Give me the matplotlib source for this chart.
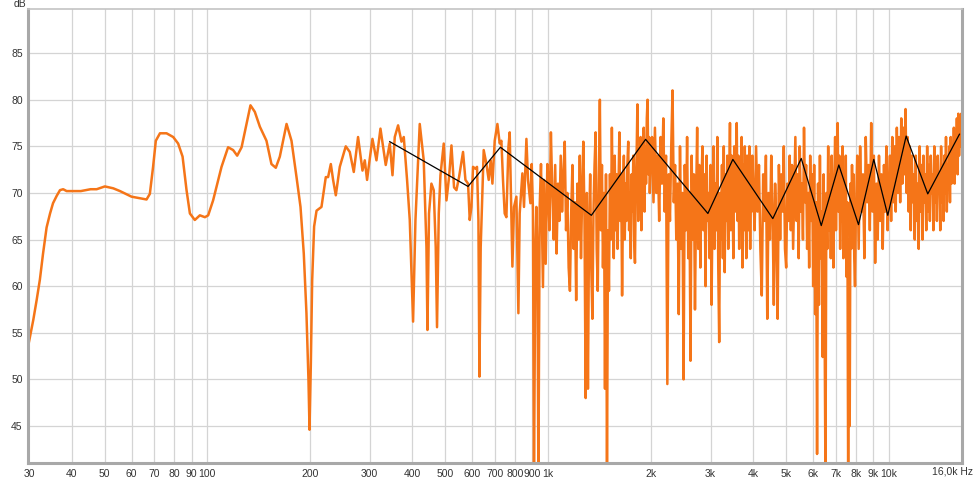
import matplotlib
matplotlib.use("Agg")
import matplotlib.pyplot as plt
import numpy as np

# ---------------- data ----------------
freq_low = [30.0, 30.9, 31.6, 32.3, 33.0, 33.8, 34.6, 35.3, 36.2, 37.0, 37.8, 38.7, 40.0, 42.6,
            45.5, 47.4, 50.1, 53.0, 55.5, 60.0, 66.4, 67.9, 69.4, 70.7, 72.7, 76.0, 79.5, 82.2,
            84.7, 87.0, 89.0, 92.0, 95.2, 98.5, 100.7, 104.1, 110.2, 115.2, 119.2, 122.5, 126.2,
            130.5, 134.0, 138.0, 142.8, 149.3, 154.4, 159.0,
            163.4, 171.0, 176.8, 182.9, 187.9, 192.1, 195.6, 198.3, 199.7, 201.5, 203.3, 206.0,
            209.4, 216.5, 222.9, 226.4, 230.6, 234.2, 238.5, 245.0, 255.1, 262.1, 269.3, 277.2,
            285.6, 290.1, 294.6, 298.6, 305.5, 313.9, 322.5, 334.2, 343.4, 349.8, 355.2, 363.3,
            371.7, 377.5, 386.0, 393.1, 402.0, 408.5, 420.5,
            432.0, 440.0, 443.0, 447.7, 455.0, 462.2, 468.5, 472.6, 478.2, 483.7, 494.5, 503.7,
            512.6, 521.0, 530.2, 538.9, 548.4, 563.4, 572.6, 582.8, 589.5, 596.3, 602.8, 612.6,
            619.2, 625.1, 629.3, 634.8, 647.8, 659.8, 670.1, 679.2, 687.1, 697.8, 710.6, 721.8,
            730.0, 738.0, 746.5, 755.1, 765.5, 772.2, 781.1, 786.4, 795.0, 807.9, 818.9, 826.1,
            841.3, 850.5, 864.5, 873.8, 888.1, 896.0, 903.6, 909.8, 918.6, 924.8, 931.0, 937.4,
            945.6, 954.0, 966.8, 973.4, 984.7, 995.9]
db_low = [54.0, 56.4, 58.5, 60.7, 63.5, 66.3, 67.8, 68.9, 69.7, 70.3, 70.4, 70.2, 70.2, 70.2,
          70.4, 70.4, 70.7, 70.5, 70.2, 69.6, 69.3, 69.9, 72.8, 75.6, 76.4, 76.4, 76.0, 75.3,
          73.9, 70.3, 67.8, 67.1, 67.6, 67.4, 67.6, 69.2, 72.8, 74.9, 74.6, 74.0, 74.9,
          77.4, 79.4, 78.7, 77.1, 75.6, 73.1, 72.7,
          73.9, 77.4, 75.6, 71.7, 68.5, 63.5, 57.1, 49.9, 44.6, 51.7, 60.6, 66.4,
          68.1, 68.5, 71.7, 71.7, 73.1, 71.4, 69.75, 72.8, 75.0, 74.4, 72.25, 76.0,
          72.4, 73.5, 71.4, 73.1, 75.8, 73.5, 76.9, 73.0, 75.3, 71.9, 76.0, 77.25,
          75.5, 76.0, 71.4, 67.1, 56.2, 67.1, 77.4,
          73.5, 64.2, 55.3, 67.8, 71.0, 70.3, 64.2, 55.6, 67.8, 71.9, 75.3, 69.2,
          71.7, 75.1, 70.6, 70.3, 71.7, 74.4, 71.4, 71.0, 67.1, 68.5, 72.8, 72.6,
          72.8, 67.1, 50.3, 64.2, 74.6, 73.1, 71.4, 73.5, 71.0, 75.6, 77.4, 75.3,
          75.6, 71.4, 67.8, 67.4, 74.9, 76.5, 67.1, 62.1, 68.5, 69.6, 57.1, 67.8,
          72.1, 68.5, 75.8, 71.4, 68.9, 73.1, 68.1, 39.0, 64.2, 68.5, 63.5, 39.0,
          68.5, 73.1, 59.9, 71.4, 62.4, 73.1]

freq_1k = [1000, 1010, 1020, 1030, 1040, 1050, 1060, 1070, 1080, 1090,
           1100, 1110, 1120, 1130, 1140, 1150, 1160, 1170, 1180, 1190,
           1200, 1210, 1220, 1230, 1240, 1250, 1260, 1270, 1280, 1290,
           1300, 1310, 1320, 1330, 1340, 1350, 1360, 1370, 1380, 1390,
           1400, 1410, 1420, 1430, 1440, 1450, 1460, 1470, 1480, 1490,
           1500, 1510, 1520, 1530, 1540, 1550, 1560, 1570, 1580, 1590,
           1600, 1610, 1620, 1630, 1640, 1650, 1660, 1670, 1680, 1690,
           1700, 1710, 1720, 1730, 1740, 1750, 1760, 1770, 1780, 1790,
           1800, 1810, 1820, 1830, 1840, 1850, 1860, 1870, 1880, 1890,
           1900, 1910, 1920, 1930, 1940, 1950, 1960, 1970, 1980, 1990]
db_1k = [72, 66, 76.5, 70, 65, 73, 63.5, 71, 67, 74,
         68, 72, 75.5, 66, 70, 62, 59.5, 68, 73, 64,
         69, 58.5, 71, 65, 74, 63, 70, 75.5, 67, 48,
         70, 49, 66, 72, 62, 56.5, 68, 73, 76.5, 64,
         59.5, 71, 80, 66, 73, 62, 70, 49, 72, 39,
         66, 59.5, 72, 65, 77, 68, 63, 74, 66, 72,
         64, 70, 76.5, 67, 72, 59, 69, 74, 65, 71,
         67, 73, 75.5, 66, 70, 63, 72, 68, 74, 65,
         62.5, 71, 74, 79.5, 67, 73, 69, 76, 66, 74,
         70, 77, 68, 75, 71, 78, 80, 72, 76, 70]

freq_2k = [2000, 2020, 2040, 2060, 2080, 2100, 2120, 2140, 2160, 2180,
           2200, 2220, 2240, 2260, 2280, 2300, 2320, 2340, 2360, 2380,
           2400, 2420, 2440, 2460, 2480, 2500, 2520, 2540, 2560, 2580,
           2600, 2620, 2640, 2660, 2680, 2700, 2720, 2740, 2760, 2780,
           2800, 2820, 2840, 2860, 2880, 2900, 2920, 2940, 2960, 2980,
           3000, 3020, 3040, 3060, 3080, 3100, 3120, 3140, 3160, 3180,
           3200, 3220, 3240, 3260, 3280, 3300, 3320, 3340, 3360, 3380,
           3400, 3420, 3440, 3460, 3480, 3500, 3520, 3540, 3560, 3580,
           3600, 3620, 3640, 3660, 3680, 3700, 3720, 3740, 3760, 3780,
           3800, 3820, 3840, 3860, 3880, 3900, 3920, 3940, 3960, 3980]
db_2k = [73, 76, 69, 77, 70, 74, 67, 76, 71, 78,
         68, 74, 49.5, 72, 67, 75, 81, 69, 73, 65,
         71, 57, 75, 64, 70, 50, 73, 66, 76, 63,
         70, 52, 74, 65, 72, 57.5, 69, 77, 64, 73,
         62, 71, 75, 66, 72, 60, 74, 67, 70, 63,
         73, 58, 69, 75, 64, 71, 66, 76, 62, 54,
         70, 65, 73, 63, 75, 61.5, 72, 67, 74, 64,
         71, 77.5, 66, 74, 69, 63, 75, 68, 72, 77.5,
         67, 74, 64, 72, 69, 76, 62, 73, 66, 75,
         68, 63, 74, 70, 66, 75, 64, 72, 68, 74]

freq_4k = [4000, 4040, 4080, 4120, 4160, 4200, 4240, 4280, 4320, 4360,
           4400, 4440, 4480, 4520, 4560, 4600, 4640, 4680, 4720, 4760,
           4800, 4840, 4880, 4920, 4960, 5000, 5040, 5080, 5120, 5160,
           5200, 5240, 5280, 5320, 5360, 5400, 5440, 5480, 5520, 5560,
           5600, 5640, 5680, 5720, 5760, 5800, 5840, 5880, 5920, 5960,
           6000, 6040, 6080, 6120, 6160, 6200, 6240, 6280, 6320, 6360,
           6400, 6440, 6480, 6520, 6560, 6600, 6640, 6680, 6720, 6760,
           6800, 6840, 6880, 6920, 6960, 7000, 7040, 7080, 7120, 7160,
           7200, 7240, 7280, 7320, 7360, 7400, 7440, 7480, 7520, 7560,
           7600, 7640, 7680, 7720, 7760, 7800, 7840, 7880, 7920, 7960]
db_4k = [71, 66, 75, 68, 73, 64, 59, 72, 67, 74,
         56.5, 70, 65, 74, 68, 58, 71, 66, 56.5, 73,
         65, 72, 68, 75, 64, 62, 71, 67, 74, 66,
         73, 64, 70, 76, 67, 72, 63, 75, 68, 71,
         65, 77, 69, 73, 64, 70, 62, 74, 67, 72,
         60, 73, 57, 69, 42, 71, 58, 74, 63, 68,
         52.4, 72, 57, 39, 70, 64, 75, 66, 72, 63,
         74, 67, 62, 71, 76, 66, 73, 77.5, 68, 74,
         64, 72, 67, 75, 63, 70, 66, 74, 61, 69,
         39, 65, 45, 71, 64, 73, 66, 72, 63, 60]

freq_8k = [8000, 8080, 8160, 8240, 8320, 8400, 8480, 8560, 8640, 8720,
           8800, 8880, 8960, 9040, 9120, 9200, 9280, 9360, 9440, 9520,
           9600, 9680, 9760, 9840, 9920, 10000, 10080, 10160, 10240, 10320,
           10400, 10480, 10560, 10640, 10720, 10800, 10880, 10960, 11040, 11120,
           11200, 11280, 11360, 11440, 11520, 11600, 11680, 11760, 11840, 11920,
           12000, 12080, 12160, 12240, 12320, 12400, 12480, 12560, 12640, 12720,
           12800, 12880, 12960, 13040, 13120, 13200, 13280, 13360, 13440, 13520,
           13600, 13680, 13760, 13840, 13920, 14000, 14080, 14160, 14240, 14320,
           14400, 14480, 14560, 14640, 14720, 14800, 14880, 14960, 15040, 15120,
           15200, 15280, 15360, 15440, 15520, 15600, 15680, 15760, 15840, 15920,
           16000, 16080, 16160, 16240, 16320, 16400]
db_8k = [67, 74, 64, 75, 68, 72, 63, 76, 69, 73,
         66, 77.5, 68, 74, 62.5, 71, 65, 74, 67, 72,
         64, 73, 68, 75, 66, 71, 74, 67, 76, 69,
         75, 68, 77, 70, 76, 69, 78, 71, 77, 72,
         79, 70, 76, 68, 75, 66, 74, 69, 72, 65,
         74, 67, 71, 64, 75, 68, 73, 65, 74, 69,
         72, 66, 75, 68, 73, 67, 74, 70, 72, 66,
         75, 69, 73, 67, 74, 70, 72, 66, 75, 69,
         73, 67, 74, 70, 76, 68, 73, 71, 75, 69,
         76, 71, 74, 72, 77, 71, 76, 73, 78, 72,
         78.5, 74, 77, 75, 78.5, 76.5]

# black zig-zag overlay
zig_freq = [343.4, 582.8, 725.2, 1341, 1934, 2946, 3487, 4568, 5536, 6337,
            7135, 8150, 9036, 9933, 11245, 13013, 16121]
zig_db = [75.5, 70.7, 74.9, 67.6, 75.75, 67.8, 73.6, 67.25, 73.7, 66.5,
          73.0, 66.6, 73.6, 67.6, 76.1, 69.9, 76.3]

# axis ticks
x_ticks = [30, 40, 50, 60, 70, 80, 90, 100, 200, 300, 400, 500, 600, 700, 800, 900,
           1000, 2000, 3000, 4000, 5000, 6000, 7000, 8000, 9000, 10000]
x_labels = ["30", "40", "50", "60", "70", "80", "90", "100", "200", "300", "400", "500",
            "600", "700", "800", "900", "1k", "2k", "3k", "4k", "5k", "6k", "7k", "8k",
            "9k", "10k"]
end_label = "16,0k Hz"
y_ticks = [45, 50, 55, 60, 65, 70, 75, 80, 85]

# ---------------- drawing ----------------
plt.rcParams['font.family'] = ['Liberation Sans', 'DejaVu Sans']

W, H = 975, 478
fig = plt.figure(figsize=(W / 100, H / 100), dpi=100)
left, right, top, bottom = 28.3, 962.0, 9.3, 463.3
ax = fig.add_axes([left / W, 1 - bottom / H, (right - left) / W, (bottom - top) / H])

freq = np.concatenate([freq_low, freq_1k, freq_2k, freq_4k, freq_8k]).astype(float)
db = np.concatenate([db_low, db_1k, db_2k, db_4k, db_8k]).astype(float)

ax.set_xscale('log')
ax.set_xlim(29.87, 16400)
ax.set_ylim(41.0, 89.7)

# grid
for t in y_ticks:
    ax.axhline(t, color='#d4d4d4', lw=0.9, zorder=0)
for t in x_ticks[1:]:
    ax.axvline(t, color='#d4d4d4', lw=0.9, zorder=0)

ax.plot(freq, db, color='#F57518', lw=1.8, solid_joinstyle='round', zorder=2)
ax.plot(zig_freq, zig_db, color='black', lw=0.9, zorder=3)

ax.set_xticks(x_ticks)
ax.set_xticklabels(x_labels)
ax.xaxis.set_minor_locator(matplotlib.ticker.NullLocator())
ax.set_yticks(y_ticks)
ax.set_yticklabels([str(t) for t in y_ticks])
ax.tick_params(axis='both', length=0, labelsize=7.5, labelcolor='#333333')
ax.tick_params(axis='x', pad=4)
ax.tick_params(axis='y', pad=4)

# right-most axis label (frequency unit)
fig.text(973 / W, 1 - 471 / H, end_label, fontsize=7.5, color='#333333',
         ha='right', va='center')

for side in ['left', 'bottom', 'right']:
    ax.spines[side].set_color('#a8a8a8')
    ax.spines[side].set_linewidth(2.2)
ax.spines['top'].set_color('#c4c4c4')
ax.spines['top'].set_linewidth(1.2)

fig.text(20 / W, 1 - 4 / H, 'dB', fontsize=7.5, color='#333333', ha='center', va='center')

fig.savefig('out.png', dpi=100, facecolor='white')
